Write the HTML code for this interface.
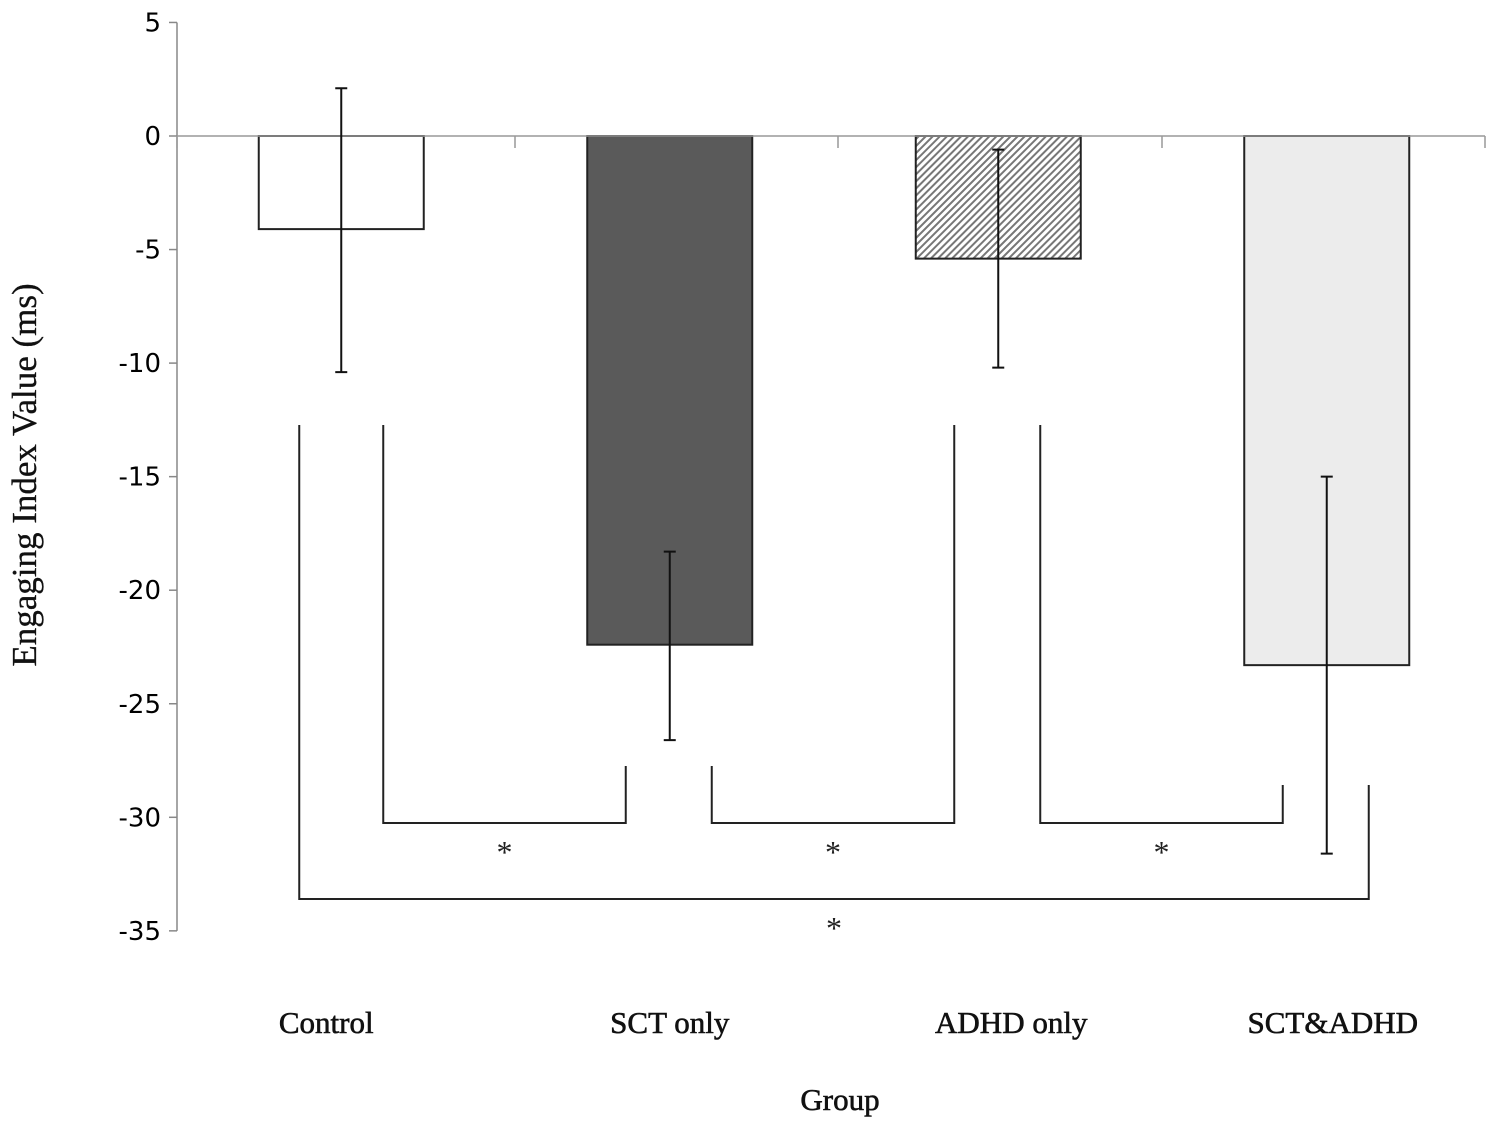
<!DOCTYPE html>
<html><head><meta charset="utf-8"><style>
html,body{margin:0;padding:0;background:#fff}
svg{display:block}
.tick{font-family:"DejaVu Sans","Liberation Sans",sans-serif;font-size:26px;fill:#000}
.cat{font-family:"Liberation Serif",serif;font-size:31px;fill:#111;stroke:#111;stroke-width:0.6}
.star{font-family:"Liberation Serif",serif;font-size:32px;fill:#222}
</style></head><body>
<svg id="chart" width="1502" height="1126" xmlns="http://www.w3.org/2000/svg">
<defs>
<pattern id="hatch" patternUnits="userSpaceOnUse" width="5" height="5" patternTransform="rotate(45)">
<rect width="5" height="5" fill="#fff"/><rect width="2" height="5" fill="#777"/>
</pattern>
</defs>
<g id="plot"></g>
<text class="cat" x="840" y="1110" text-anchor="middle">Group</text>
<text class="cat" style="font-size:35px;stroke-width:0.3" transform="translate(36,475) rotate(-90)" text-anchor="middle">Engaging Index Value (ms)</text>
</svg>
<script>
const categories = ["Control","SCT only","ADHD only","SCT&ADHD"];
const means = [-4.1,-22.4,-5.4,-23.3];
const errUpper = [2.1,-18.3,-0.6,-15.0];
const errLower = [-10.4,-26.6,-10.2,-31.6];
const yTicks = [5,0,-5,-10,-15,-20,-25,-30,-35];
const fills = ["#ffffff","#5a5a5a","url(#hatch)","#ececec"];
// significance brackets: [leftCategory, rightCategory, level]
const brackets = [[0,1,0],[1,2,0],[2,3,0],[0,3,1]];

const NS="http://www.w3.org/2000/svg";
const g=document.getElementById('plot');
const x0=177,x1=1485,bw=328.5;
const y=v=>136+(0-v)*22.71;
const cx=i=>x0+bw*(i+0.5);
const labelShift=[-15,0,13,6];
function mk(t,a){const e=document.createElementNS(NS,t);for(const k in a)e.setAttribute(k,a[k]);g.appendChild(e);return e;}

let e=mk('line',{x1:x0,y1:y(5),x2:x0,y2:y(-35),stroke:'#888','stroke-width':1.5});


yTicks.forEach(v=>{
  let t=mk('line',{x1:x0-8,y1:y(v),x2:x0,y2:y(v),stroke:'#888','stroke-width':1.5});
  
  
  let l=mk('text',{x:x0-16,y:y(v)+9,'text-anchor':'end',class:'tick'});
  l.textContent=v;
  
  
});
categories.forEach((c,i)=>{
  const w=165,top=y(Math.max(0,means[i])),bot=y(Math.min(0,means[i]));
  let r=mk('rect',{x:cx(i)-w/2,y:top,width:w,height:bot-top,fill:fills[i],stroke:'#222','stroke-width':2});
  
  
  let l=mk('text',{x:cx(i)+labelShift[i],y:1033,'text-anchor':'middle',class:'cat'});
  l.textContent=c;
  
  
});
e=mk('line',{x1:x0,y1:y(0),x2:x1,y2:y(0),stroke:'#999','stroke-width':1.5});


[0,338,661,985,1308].forEach(d=>{
  let t=mk('line',{x1:x0+d,y1:y(0),x2:x0+d,y2:y(0)+12,stroke:'#999','stroke-width':1.5});
  
  
});
categories.forEach((c,i)=>{
  const x=cx(i);
  let p=mk('path',{d:`M${x},${y(errUpper[i])}V${y(errLower[i])}M${x-6},${y(errUpper[i])}H${x+6}M${x-6},${y(errLower[i])}H${x+6}`,stroke:'#111','stroke-width':2,fill:'none'});
  
  
});
brackets.forEach(b=>{
  const [a,c,lv]=b;
  let xl,xr,yh,yl,yr;
  if(lv===1){xl=cx(a)-42;xr=cx(c)+42;yh=899;}
  else{xl=cx(a)+42;xr=cx(c)-44;yh=823;}
  yl=(lv===0&&a===1)?766:425;
  yr=(c===1)?766:(c===3?785:425);
  let p=mk('path',{d:`M${xl},${yl}V${yh}H${xr}V${yr}`,stroke:'#222','stroke-width':2,fill:'none'});
  
  
  let s=mk('text',{x:(xl+xr)/2,y:yh+40,'text-anchor':'middle',class:'star'});
  s.textContent='*';
  
  
});
</script>
</body></html>
